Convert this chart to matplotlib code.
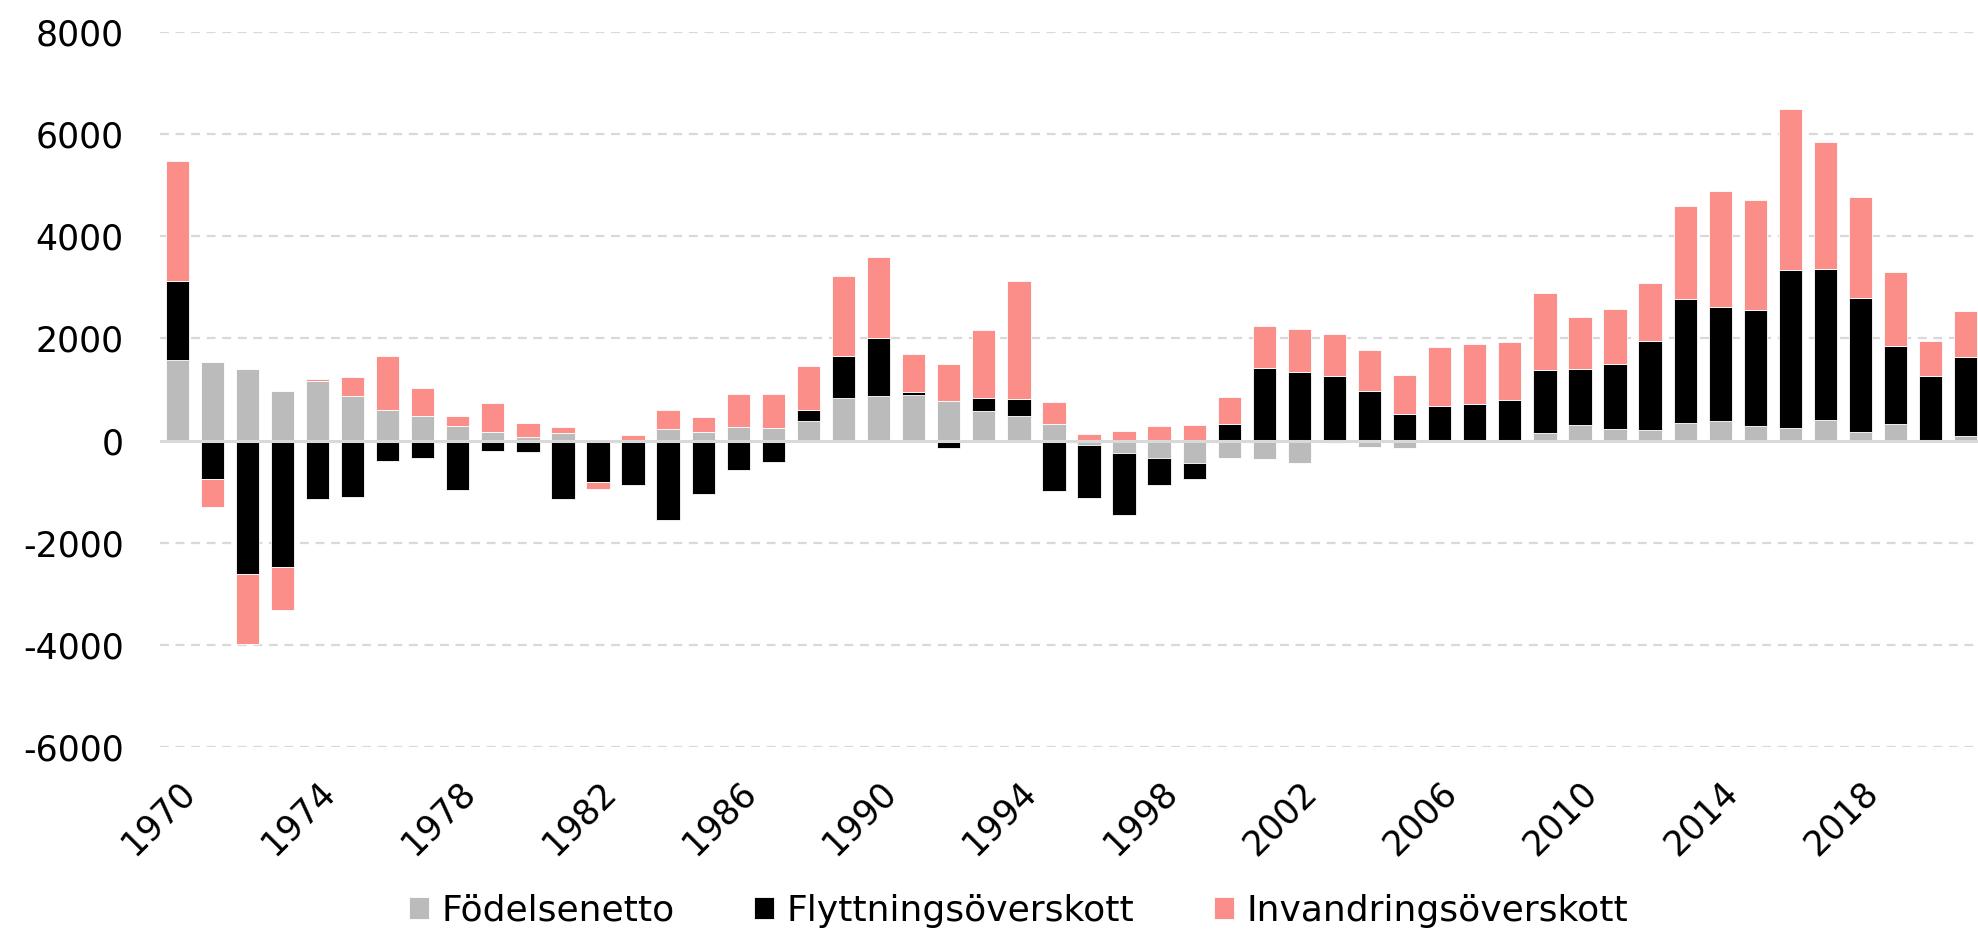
import numpy as np
import matplotlib
matplotlib.use("Agg")
import matplotlib.pyplot as plt

plt.rcParams['font.family'] = ['DejaVu Sans']

years = list(range(1970, 2022))

fodelsenetto = [1568, 1547, 1405, 980, 1162, 872, 608, 486, 291, 169,
                61, 142, 0, 20, 232, 163, 274, 254, 391, 827,
                880, 899, 782, 580, 476, 332, -91, -235, -332, -430,
                -339, -358, -430, -40, -117, -143, -30, -10, -30, 147,
                310, 222, 205, 352, 391, 280, 248, 397, 176, 326,
                20, 85]

flyttningsoverskott = [1547, -743, -2608, -2473, -1142, -1108, -392, -338, -966, -203,
                       -223, -1142, -804, -873, -1562, -1055, -573, -410, 202, 828,
                       1127, 46, -137, 247, 332, -990, -1043, -1224, -541, -313,
                       319, 1414, 1349, 1257, 964, 528, 671, 723, 801, 1231,
                       1084, 1283, 1743, 2423, 2228, 2267, 3101, 2965, 2625, 1518,
                       1237, 1544]

invandringsoverskott = [2351, -554, -1379, -838, 34, 365, 1041, 548, 195, 574,
                        284, 115, -142, 97, 372, 300, 632, 665, 873, 1576,
                        1596, 742, 723, 1342, 2319, 430, 137, 195, 280, 306,
                        534, 834, 834, 828, 802, 762, 1166, 1160, 1137, 1512,
                        1030, 1075, 1134, 1825, 2274, 2157, 3140, 2482, 1961, 1453,
                        684, 899]

series_names = ["Födelsenetto", "Flyttningsöverskott", "Invandringsöverskott"]
series_colors = ["#BBBBBC", "#000000", "#FB8E89"]

y_ticks = list(range(-6000, 8001, 2000))
x_label_years = years[::4]

fig = plt.figure(figsize=(19.78, 9.33), dpi=100)
ax = fig.add_axes([160/1978, 1-747/933, 1-160/1978, (747-32)/933])

x = np.arange(len(years))
pos_cum = np.zeros(len(years))
neg_cum = np.zeros(len(years))
for name, vals, col in zip(series_names,
                           [fodelsenetto, flyttningsoverskott, invandringsoverskott],
                           series_colors):
    v = np.array(vals, dtype=float)
    bottom = np.where(v >= 0, pos_cum, neg_cum)
    ax.bar(x, v, bottom=bottom, width=0.665, color=col, label=name,
           edgecolor='white', linewidth=0.6, zorder=2)
    pos_cum = pos_cum + np.where(v >= 0, v, 0)
    neg_cum = neg_cum + np.where(v < 0, v, 0)

ax.set_ylim(-6000, 8000)
ax.set_xlim(-0.49, 51.35)
ax.set_yticks(y_ticks)
ax.set_yticklabels([str(t) for t in y_ticks], fontsize=25)
for t in y_ticks:
    if t != 0:
        ax.axhline(t, color='#D9D9D9', linewidth=1.6, linestyle=(0, (4, 3)), zorder=1)
ax.axhline(0, color='#D9D9D9', linewidth=2.2, zorder=3)

ax.set_xticks(range(0, len(years), 4))
ax.set_xticklabels([str(y) for y in x_label_years], rotation=45, ha='right',
                   rotation_mode='anchor', fontsize=25)
ax.tick_params(axis='both', length=0)
ax.tick_params(axis='y', pad=26)
ax.tick_params(axis='x', pad=20)
for s in ax.spines.values():
    s.set_visible(False)

fig.legend(loc='center', bbox_to_anchor=(0.515, 0.024), ncol=3, frameon=False,
           fontsize=26, handlelength=0.55, handleheight=0.55, handletextpad=0.35,
           columnspacing=2.2)

fig.savefig("out.png", dpi=100)
